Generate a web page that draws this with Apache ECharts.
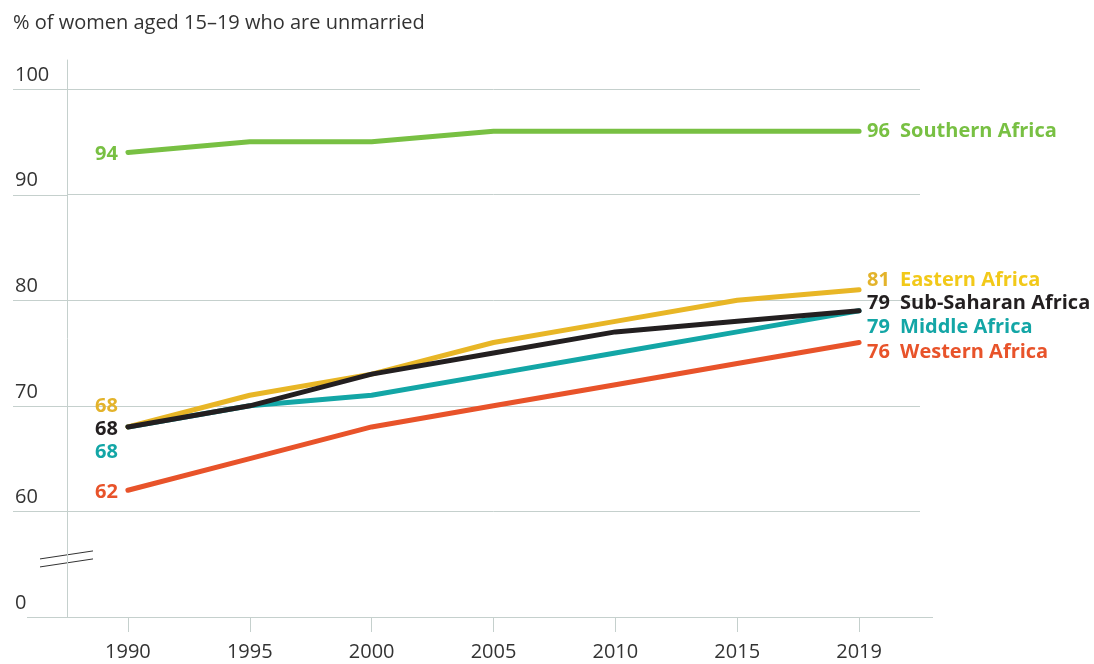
<!DOCTYPE html>
<html>
<head>
<meta charset="utf-8">
<script src="https://cdn.jsdelivr.net/npm/echarts@6/dist/echarts.min.js"></script>
<style>
  html, body { margin: 0; padding: 0; background: #fff; }
  #main { width: 1094px; height: 664px; }
</style>
</head>
<body>
<div id="main"></div>
<script>
// 数据：年份与各地区未婚比例
const years = ['1990', '1995', '2000', '2005', '2010', '2015', '2019']
const southern = [94, 95, 95, 96, 96, 96, 96]
const eastern = [68, 71, 73, 76, 78, 80, 81]
const subSaharan = [68, 70, 73, 75, 77, 78, 79]
const middle = [68, 70, 71, 73, 75, 77, 79]
const western = [62, 65, 68, 70, 72, 74, 76]
// 断轴：50 位置显示为 0
const yTickValues = [50, 60, 70, 80, 90, 100]
const yTickLabels = ['0', '60', '70', '80', '90', '100']

const FONT = 'Open Sans'
const GRID_COLOR = '#c5d0cd'
const TEXT_COLOR = '#333333'
const GRID_LEFT = 67

/**
 * 生成一条折线，首尾带标签
 */
function makeSeries(name, data, color, valueColor, nameColor, startOffset, endOffset) {
    const points = data.map((v, i) => {
        if (i === 0) {
            return {
                value: v,
                label: {
                    show: true,
                    position: 'left',
                    distance: 10,
                    offset: [0, startOffset],
                    formatter: String(v),
                    color: valueColor,
                    fontFamily: FONT,
                    fontWeight: 'bold',
                    fontSize: 20
                }
            }
        }
        if (i === data.length - 1) {
            return {
                value: v,
                label: {
                    show: true,
                    position: 'right',
                    distance: 8,
                    offset: [0, endOffset],
                    formatter: '{v|' + v + '}{n|' + name + '}',
                    rich: {
                        v: { width: 33, color: valueColor, fontFamily: FONT, fontWeight: 'bold', fontSize: 20 },
                        n: { color: nameColor, fontFamily: FONT, fontWeight: 'bold', fontSize: 20 }
                    }
                }
            }
        }
        return v
    })
    return {
        type: 'line',
        name: name,
        data: points,
        symbol: 'circle',
        symbolSize: 0,
        showSymbol: true,
        label: { show: false },
        lineStyle: { color: color, width: 5, cap: 'round', join: 'round' },
        itemStyle: { color: color },
        emphasis: { disabled: true },
        animation: false
    }
}

const chart = echarts.init(document.getElementById('main'))

const option = {
    backgroundColor: '#ffffff',
    title: {
        text: '% of women aged 15–19 who are unmarried',
        left: 13,
        top: 13,
        padding: 0,
        textStyle: { fontFamily: FONT, fontWeight: 'normal', fontSize: 20, color: TEXT_COLOR }
    },
    grid: { left: GRID_LEFT, right: 174, top: 60, bottom: 47 },
    xAxis: {
        type: 'category',
        data: years,
        boundaryGap: true,
        axisLine: { show: false },
        axisTick: { show: true, alignWithLabel: true, length: 15, lineStyle: { color: GRID_COLOR, width: 1 } },
        axisLabel: { fontFamily: FONT, fontSize: 20, color: TEXT_COLOR, margin: 25 },
        splitLine: { show: false }
    },
    yAxis: {
        type: 'value',
        min: 50,
        max: 102.75,
        interval: 10,
        axisLine: { show: true, lineStyle: { color: GRID_COLOR, width: 1 } },
        axisTick: { show: false },
        axisLabel: {
            customValues: yTickValues,
            align: 'left',
            verticalAlign: 'bottom',
            margin: 52,
            padding: [0, 0, 4, 0],
            fontFamily: FONT,
            fontSize: 20,
            color: TEXT_COLOR,
            formatter: (v) => yTickLabels[yTickValues.indexOf(v)]
        },
        splitLine: { show: true, showMinLine: false, showMaxLine: false, lineStyle: { color: GRID_COLOR, width: 1 } }
    },
    series: [
        makeSeries('Southern Africa', southern, '#78c043', '#78c043', '#78c043', 2, 0),
        makeSeries('Western Africa', western, '#e8532a', '#e8532a', '#e8532a', 2, 10),
        makeSeries('Middle Africa', middle, '#13a6a6', '#13a6a6', '#13a6a6', 25, 17),
        makeSeries('Eastern Africa', eastern, '#e8b626', '#e3b32b', '#f2c919', -21, -9),
        makeSeries('Sub-Saharan Africa', subSaharan, '#231f20', '#231f20', '#231f20', 2, -7)
    ]
}
chart.setOption(option)

// 网格线向左延伸、底部轴线与断轴标记
const graphics = []
yTickValues.slice(1).forEach((v) => {
    const y = Math.round(chart.convertToPixel({ yAxisIndex: 0 }, v)) + 0.5
    graphics.push({ type: 'line', shape: { x1: 13, y1: y, x2: GRID_LEFT, y2: y }, style: { stroke: GRID_COLOR, lineWidth: 1 }, silent: true })
})
const baseY = Math.round(chart.convertToPixel({ yAxisIndex: 0 }, 50)) + 0.5
const breakY = chart.convertToPixel({ yAxisIndex: 0 }, 55.5)
graphics.push(
    { type: 'line', shape: { x1: 27, y1: baseY, x2: 933, y2: baseY }, style: { stroke: GRID_COLOR, lineWidth: 1 }, silent: true },
    { type: 'line', shape: { x1: GRID_LEFT - 27, y1: breakY, x2: GRID_LEFT + 26, y2: breakY - 8 }, style: { stroke: '#333', lineWidth: 1 }, silent: true },
    { type: 'line', shape: { x1: GRID_LEFT - 27, y1: breakY + 8, x2: GRID_LEFT + 26, y2: breakY }, style: { stroke: '#333', lineWidth: 1 }, silent: true }
)
chart.setOption({ graphic: graphics })
</script>
</body>
</html>
